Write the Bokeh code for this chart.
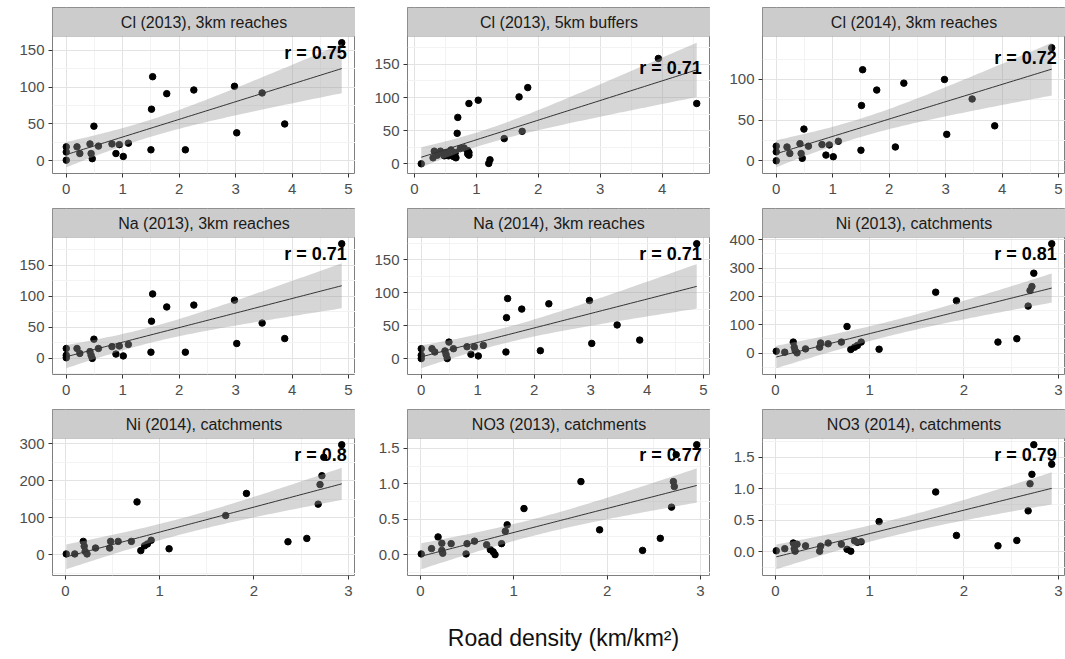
import numpy as np
from bokeh.plotting import figure
from bokeh.models import Range1d, FixedTicker, BoxAnnotation, Label
from bokeh.layouts import column, row
from bokeh.embed import file_html
from bokeh.resources import INLINE

# ---------------- data ----------------
x_reach = [0.00, 0.00, 0.00, 0.19, 0.24, 0.42, 0.44, 0.46, 0.49, 0.57, 0.81, 0.88, 0.94,
           1.01, 1.10, 1.50, 1.51, 1.53, 1.78, 2.11, 2.26, 2.98, 3.02, 3.47, 3.87, 4.88]
cl_2013_reach = [1, 12, 19, 19, 10, 23, 10, 3, 47, 20, 23, 10, 22,
                 6, 24, 15, 70, 114, 91, 15, 96, 101, 38, 92, 50, 160]
cl_2014_reach = [0, 11, 18, 17, 9, 21, 9, 3, 39, 18, 20, 7, 19.5,
                 5, 24, 13, 68, 112, 87, 17, 95.5, 100, 32.5, 76, 43, 139]
na_2013_reach = [1, 5, 16, 16, 8, 11, 5, 0, 31, 16, 19, 7, 20,
                 4, 22.5, 10, 60, 104, 83, 10, 86, 94, 24, 57, 32, 185]
na_2014_reach = [0, 5, 15, 15, 10, 11.6, 6, 0, 25, 15, 18, 6.5, 18,
                 4, 20, 10, 62, 91, 75, 12, 83, 88, 23, 51, 28, 174]

x_buffer = [0.11, 0.30, 0.32, 0.37, 0.42, 0.48, 0.51, 0.55, 0.59, 0.63, 0.66, 0.67, 0.69, 0.70,
            0.74, 0.80, 0.86, 0.86, 0.88, 0.88, 0.88, 1.03, 1.20, 1.22, 1.45, 1.69, 1.74, 1.83,
            3.94, 4.56]
cl_2013_buffer = [0, 9, 19, 13, 19, 12, 17, 12, 21, 11, 17, 9, 46, 70,
                  23, 24, 20, 15, 91, 17, 13, 96, 0.5, 6, 38, 101, 49, 115,
                  159, 91]

x_catch = [0.01, 0.10, 0.19, 0.20, 0.21, 0.23, 0.32, 0.47, 0.48, 0.56, 0.70, 0.76, 0.80,
           0.84, 0.87, 0.91, 1.10, 1.70, 1.92, 2.36, 2.56, 2.68, 2.70, 2.72, 2.74, 2.93]
ni_2013 = [7, 3.5, 39, 21, 9, 1, 15, 21, 36, 33, 39, 94, 13,
           21, 27, 39, 14, 215, 185, 39, 51, 166, 221, 235, 282, 386]
ni_2014 = [2, 2, 36, 23, 9, 2, 18, 18, 36, 36, 36, 143, 11,
           24, 29, 39, 16, 106, 166, 35, 44, 137, 190, 214, 264, 298]
no3_2014 = [0.016, 0.05, 0.14, 0.05, 0.01, 0.12, 0.095, 0.01, 0.09, 0.14, 0.12, 0.04, 0.01,
            0.175, 0.15, 0.16, 0.48, 0.95, 0.26, 0.095, 0.18, 0.65, 1.08, 1.23, 1.70, 1.39]

x_no3_2013 = [0.01, 0.12, 0.19, 0.23, 0.23, 0.24, 0.33, 0.49, 0.50, 0.58, 0.71, 0.75, 0.78, 0.80,
              0.87, 0.91, 0.93, 1.11, 1.72, 1.92, 2.38, 2.57, 2.69, 2.71, 2.72, 2.74, 2.96]
no3_2013 = [0.01, 0.085, 0.25, 0.16, 0.06, 0.02, 0.155, 0.01, 0.155, 0.19, 0.14, 0.07, 0.04, 0.0,
            0.155, 0.33, 0.42, 0.65, 1.03, 0.35, 0.06, 0.23, 0.67, 1.03, 0.96, 1.41, 1.55]

titles = ["Cl (2013), 3km reaches", "Cl (2013), 5km buffers", "Cl (2014), 3km reaches",
          "Na (2013), 3km reaches", "Na (2014), 3km reaches", "Ni (2013), catchments",
          "Ni (2014), catchments", "NO3 (2013), catchments", "NO3 (2014), catchments"]
r_labels = ["r = 0.75", "r = 0.71", "r = 0.72", "r = 0.71", "r = 0.71", "r = 0.81",
            "r = 0.8", "r = 0.77", "r = 0.79"]

xticks_5 = [0, 1, 2, 3, 4, 5]
xticks_4 = [0, 1, 2, 3, 4]
xticks_3 = [0, 1, 2, 3]
yticks_150 = [0, 50, 100, 150]
yticks_100 = [0, 50, 100]
yticks_400 = [0, 100, 200, 300, 400]
yticks_300 = [0, 100, 200, 300]
yticks_no3 = [0.0, 0.5, 1.0, 1.5]
ylabels_no3 = ["0.0", "0.5", "1.0", "1.5"]

x_label = "Road density (km/km²)"

# ---------------- styling / layout constants ----------------
FONT = "Liberation Sans"
STRIP_PX = 29
PLOT_PX = 137
FRAME_W = 303
BORDER_L = 52


def t975(df):
    z = 1.959964
    return (z + (z**3 + z) / (4 * df) + (5 * z**5 + 16 * z**3 + 3 * z) / (96 * df**2)
            + (3 * z**7 + 19 * z**5 + 17 * z**3 - 15 * z) / (384 * df**3))


def lm_fit(x, y):
    x = np.asarray(x, float)
    y = np.asarray(y, float)
    n = len(x)
    b1, b0 = np.polyfit(x, y, 1)
    resid = y - (b0 + b1 * x)
    s = np.sqrt((resid**2).sum() / (n - 2))
    xs = np.linspace(x.min(), x.max(), 80)
    fv = b0 + b1 * xs
    se = s * np.sqrt(1.0 / n + (xs - x.mean())**2 / ((x - x.mean())**2).sum())
    t = t975(n - 2)
    return xs, fv, fv - t * se, fv + t * se


def minors(ticks, lo, hi):
    step = ticks[1] - ticks[0]
    ext = [ticks[0] - step] + list(ticks) + [ticks[-1] + step]
    mids = [(a + b) / 2 for a, b in zip(ext[:-1], ext[1:])]
    return [m for m in mids if lo < m < hi]


def make_panel(title, x, y, rtxt, xticks, yticks, ylabels=None):
    xs, fv, lo, hi = lm_fit(x, y)
    xmin, xmax = min(x), max(x)
    dx = (xmax - xmin) * 0.05
    x0, x1 = xmin - dx, xmax + dx
    ymin = min(min(y), lo.min())
    ymax = max(max(y), hi.max())
    dy = (ymax - ymin) * 0.05
    y0, y1 = ymin - dy, ymax + dy
    ytop = y1 + (y1 - y0) * STRIP_PX / PLOT_PX

    p = figure(frame_width=FRAME_W, frame_height=STRIP_PX + PLOT_PX,
               x_range=Range1d(x0, x1), y_range=Range1d(y0, ytop),
               output_backend="svg", toolbar_location=None, tools="",
               min_border_left=BORDER_L, min_border_right=0,
               min_border_top=7, min_border_bottom=28)
    p.background_fill_color = "white"
    p.border_fill_color = "white"
    p.outline_line_color = "#7f7f7f"
    p.outline_line_width = 1

    yt = [t for t in yticks if y0 <= t <= y1]
    p.xaxis.ticker = FixedTicker(ticks=xticks, minor_ticks=minors(xticks, x0, x1))
    p.yaxis.ticker = FixedTicker(ticks=yt, minor_ticks=minors(yticks, y0, y1))
    if ylabels is not None:
        p.yaxis.major_label_overrides = {t: l for t, l in zip(yticks, ylabels)}

    for ax in (p.xaxis, p.yaxis):
        ax.axis_line_color = None
        ax.major_tick_line_color = "#333333"
        ax.major_tick_out = 4
        ax.major_tick_in = 0
        ax.minor_tick_out = 0
        ax.minor_tick_in = 0
        ax.major_label_text_font = FONT
        ax.major_label_text_font_size = "15px"
        ax.major_label_text_color = "#4d4d4d"
    p.xaxis.major_label_standoff = 6
    p.yaxis.major_label_standoff = 4

    for g in (p.xgrid, p.ygrid):
        g.grid_line_color = "#e3e3e3"
        g.grid_line_width = 1
        g.minor_grid_line_color = "#f3f3f3"
        g.minor_grid_line_width = 1

    p.scatter(x, y, size=6.5, color="black", marker="circle")
    p.varea(x=xs, y1=lo, y2=hi, fill_color="#999999", fill_alpha=0.4)
    p.line(xs, fv, line_color="#333333", line_width=1)

    p.add_layout(BoxAnnotation(left=x0, right=x1, bottom=y1, top=ytop,
                               fill_color="#cccccc", fill_alpha=1.0,
                               line_color="#7f7f7f", line_width=1))
    p.add_layout(Label(x=(x0 + x1) / 2, y=(y1 + ytop) / 2, text=title,
                       text_align="center", text_baseline="middle",
                       text_font=FONT, text_font_size="16px", text_color="#1a1a1a"))
    p.add_layout(Label(x=xmax, y=max(y), text=rtxt, x_offset=5,
                       text_align="right", text_baseline="top",
                       text_font=FONT, text_font_size="18px", text_font_style="bold",
                       text_color="black"))
    return p


p1 = make_panel(titles[0], x_reach, cl_2013_reach, r_labels[0], xticks_5, yticks_150)
p2 = make_panel(titles[1], x_buffer, cl_2013_buffer, r_labels[1], xticks_4, yticks_150)
p3 = make_panel(titles[2], x_reach, cl_2014_reach, r_labels[2], xticks_5, yticks_100)
p4 = make_panel(titles[3], x_reach, na_2013_reach, r_labels[3], xticks_5, yticks_150)
p5 = make_panel(titles[4], x_reach, na_2014_reach, r_labels[4], xticks_5, yticks_150)
p6 = make_panel(titles[5], x_catch, ni_2013, r_labels[5], xticks_3, yticks_400)
p7 = make_panel(titles[6], x_catch, ni_2014, r_labels[6], xticks_3, yticks_300)
p8 = make_panel(titles[7], x_no3_2013, no3_2013, r_labels[7], xticks_3, yticks_no3, ylabels_no3)
p9 = make_panel(titles[8], x_catch, no3_2014, r_labels[8], xticks_3, yticks_no3, ylabels_no3)

lab = figure(frame_width=1065, frame_height=56, x_range=Range1d(0, 1065), y_range=Range1d(0, 56),
             x_axis_type=None, y_axis_type=None, output_backend="svg",
             toolbar_location=None, tools="", min_border=0)
lab.outline_line_color = None
lab.grid.visible = False
lab.add_layout(Label(x=563, y=22, text=x_label, text_align="center", text_baseline="middle",
                     text_font=FONT, text_font_size="23px", text_color="#111111"))

layout = column(row(p1, p2, p3), row(p4, p5, p6), row(p7, p8, p9), lab)

with open("out.html", "w") as f:
    f.write(file_html(layout, INLINE))
